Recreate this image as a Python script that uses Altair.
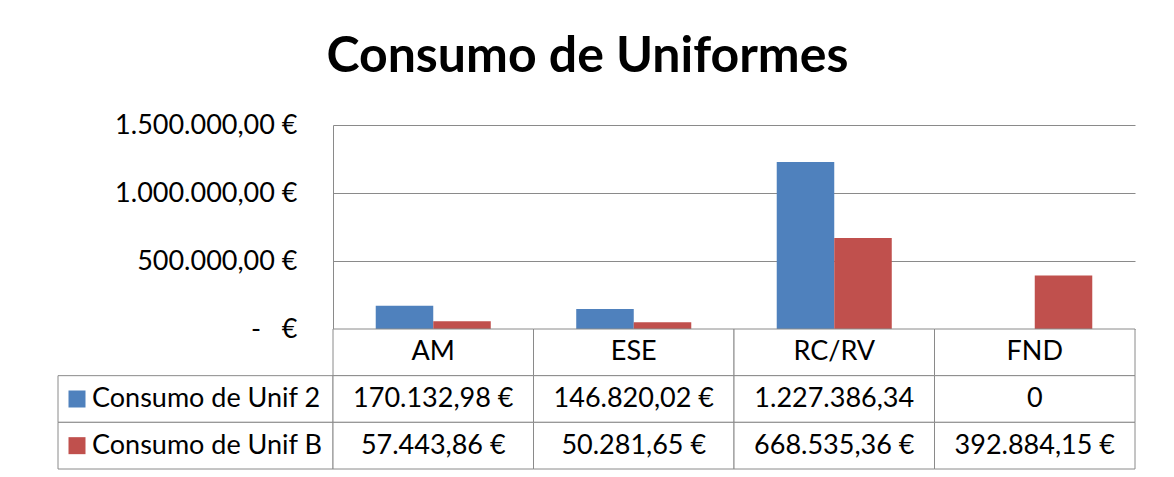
import json
import altair as alt
import pandas as pd

# ---- data ----
categories = ["AM", "ESE", "RC/RV", "FND"]
series_names = ["Consumo de Unif 2", "Consumo de Unif B"]
unif2_values = [170132.98, 146820.02, 1227386.34, 0]
unifB_values = [57443.86, 50281.65, 668535.36, 392884.15]
unif2_labels = ["170.132,98 €", "146.820,02 €", "1.227.386,34", "0"]
unifB_labels = ["57.443,86 €", "50.281,65 €", "668.535,36 €", "392.884,15 €"]
y_ticks = [0, 500000, 1000000, 1500000]
y_tick_labels = ["-\u00a0\u00a0\u00a0€", "500.000,00 €", "1.000.000,00 €", "1.500.000,00 €"]
colors = ["#4F81BD", "#C0504D"]
header_key = "cabecalho"

GRID = "#8a8a8a"
FONT = "Lato"
TXT = 27

# ---- tables built from the lists ----
bar_df = pd.DataFrame(
    [{"cat": c, "series": series_names[0], "value": v} for c, v in zip(categories, unif2_values)]
    + [{"cat": c, "series": series_names[1], "value": v} for c, v in zip(categories, unifB_values)]
)
row_keys = [header_key] + series_names
table_df = pd.DataFrame(
    [{"cat": c, "row": header_key, "text": c} for c in categories]
    + [{"cat": c, "row": series_names[0], "text": t} for c, t in zip(categories, unif2_labels)]
    + [{"cat": c, "row": series_names[1], "text": t} for c, t in zip(categories, unifB_labels)]
)
leg_df = pd.DataFrame({"col": ["legenda"] * len(series_names), "series": series_names})

x_scale = alt.Scale(domain=categories, paddingInner=0, paddingOuter=0)
color_scale = alt.Scale(domain=series_names, range=colors)

label_expr = f"{json.dumps(y_tick_labels, ensure_ascii=False)}[round(datum.value / {y_ticks[1]})]"

bars = alt.Chart(bar_df).mark_bar().encode(
    x=alt.X("cat:N", scale=x_scale, axis=None, sort=categories),
    xOffset=alt.XOffset("series:N", scale=alt.Scale(domain=series_names, paddingInner=0, paddingOuter=0.743)),
    y=alt.Y(
        "value:Q",
        scale=alt.Scale(domain=[y_ticks[0], y_ticks[-1]], nice=False),
        axis=alt.Axis(
            values=y_ticks, labelExpr=label_expr, ticks=False, domain=True,
            domainColor=GRID, gridColor=GRID, grid=True, labelFont=FONT,
            labelFontSize=27, labelColor="#000000", labelPadding=36, title=None,
            labelLimit=400,
        ),
    ),
    color=alt.Color("series:N", scale=color_scale, legend=None),
).properties(width=802, height=204)

blank = alt.Chart(pd.DataFrame({"a": [0]})).mark_point(opacity=0).encode(
    x=alt.value(0), y=alt.value(0)
).properties(width=275, height=204)

table_base = alt.Chart(table_df).encode(
    x=alt.X("cat:N", scale=x_scale, axis=None, sort=categories),
    y=alt.Y("row:N", scale=alt.Scale(domain=row_keys, paddingInner=0, paddingOuter=0), axis=None),
)
table = (
    table_base.mark_rect(fill="white", stroke=GRID, strokeWidth=1)
    + table_base.mark_text(font=FONT, fontSize=TXT, color="#000000").encode(text="text:N")
).properties(width=802, height=140)

leg_base = alt.Chart(leg_df).encode(
    x=alt.X("col:N", bandPosition=0, scale=alt.Scale(paddingInner=0, paddingOuter=0), axis=None),
    y=alt.Y("series:N", scale=alt.Scale(domain=row_keys, paddingInner=0, paddingOuter=0), axis=None),
)
legend = (
    leg_base.mark_rect(fill="white", stroke=GRID, strokeWidth=1).encode(
        x=alt.X("col:N", scale=alt.Scale(paddingInner=0, paddingOuter=0), axis=None)
    )
    + leg_base.mark_square(size=289, xOffset=19, opacity=1).encode(
        color=alt.Color("series:N", scale=color_scale, legend=None)
    )
    + leg_base.mark_text(align="left", dx=34, font=FONT, fontSize=TXT, color="#000000").encode(text="series:N")
).properties(width=275, height=140)

chart = alt.concat(
    blank, bars, legend, table, columns=2, spacing=0, bounds="flush"
).resolve_scale(x="independent", y="independent").properties(
    title=alt.TitleParams(
        "Consumo de Uniformes", font=FONT, fontSize=50, fontWeight="bold",
        anchor="middle", offset=29, dx=-8, color="#000000",
    ),
    padding={"left": 47, "right": 20, "top": 24, "bottom": 1},
    background="white",
).configure_view(stroke=None)

chart.save("out.html", embed_options={"renderer": "svg", "actions": False})
